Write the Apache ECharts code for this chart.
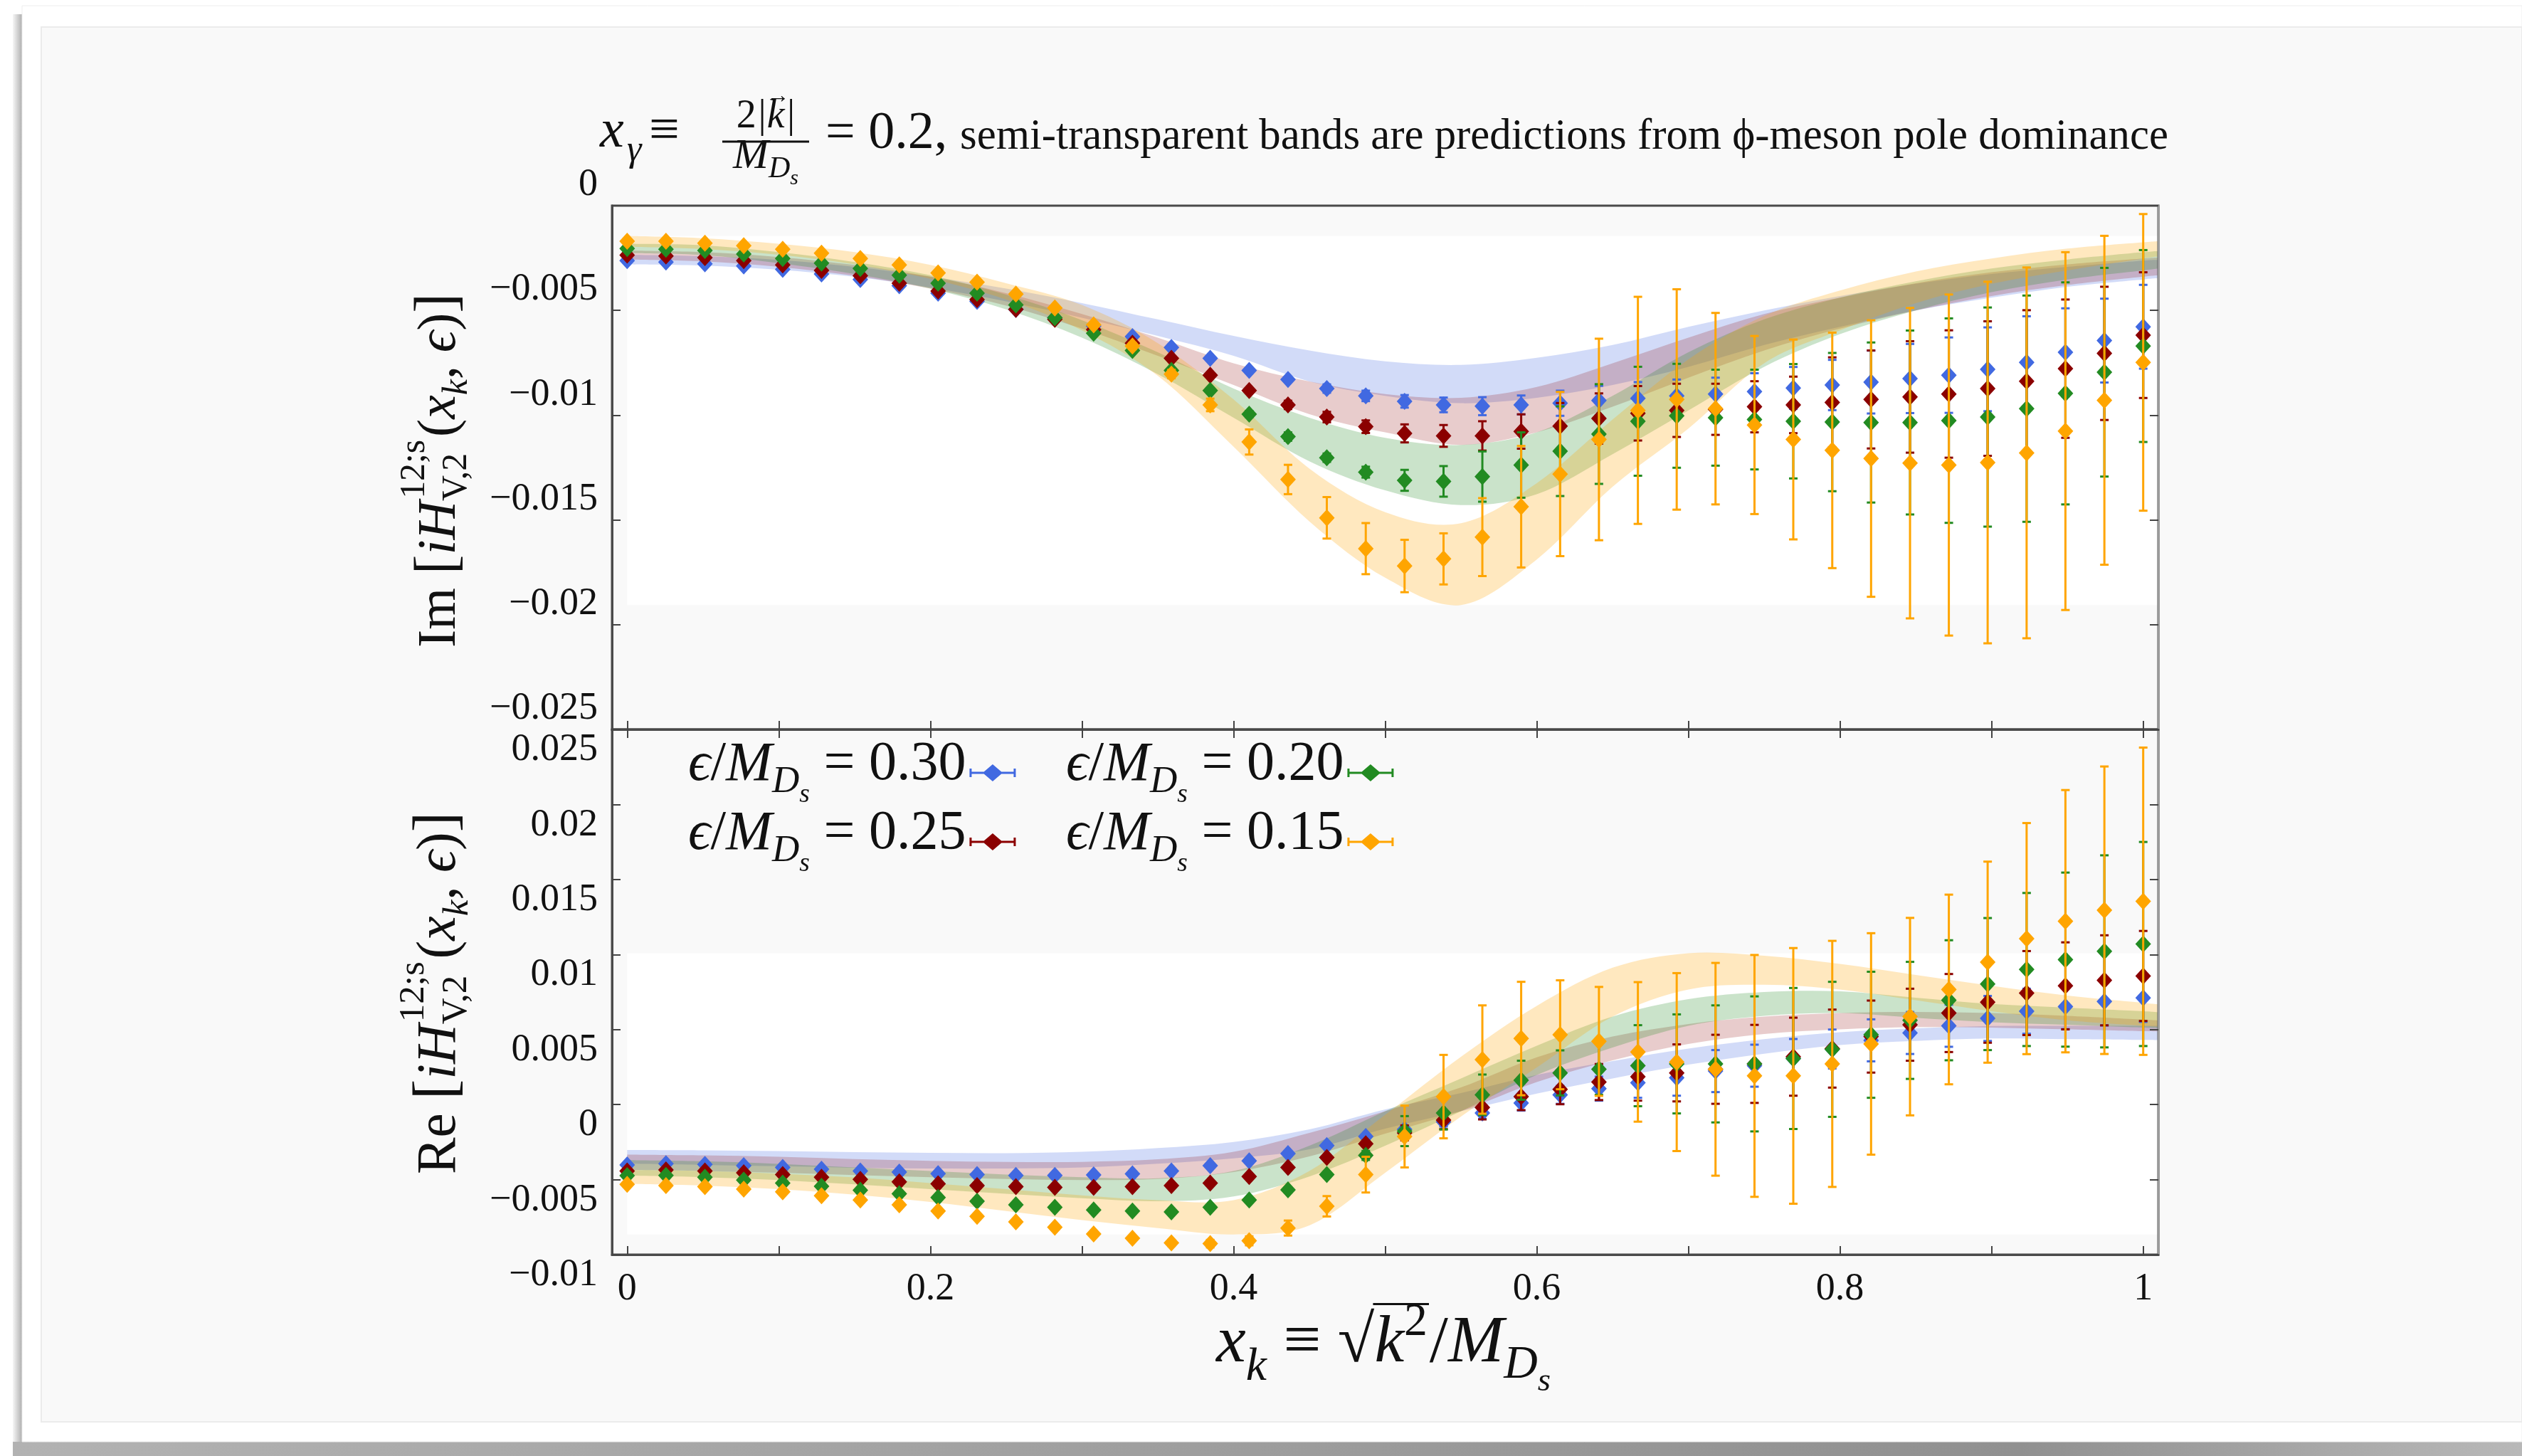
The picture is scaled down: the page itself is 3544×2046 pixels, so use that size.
<!DOCTYPE html>
<html>
<head>
<meta charset="utf-8">
<script src="https://cdn.jsdelivr.net/npm/echarts@6/dist/echarts.min.js"></script>
<style>
  html, body { margin: 0; padding: 0; background: #ffffff; }
  #chart { width: 3544px; height: 2046px; }
</style>
</head>
<body>
<div id="chart"></div>
<script>
// ---------------------------------------------------------------------------
// Data
// ---------------------------------------------------------------------------
// x_k = sqrt(k^2)/M_Ds of the lattice points
const xk = [0, 0.0256, 0.0513, 0.0769, 0.1026, 0.1282, 0.1538, 0.1795, 0.2051, 0.2308,
  0.2564, 0.2821, 0.3077, 0.3333, 0.3590, 0.3846, 0.4103, 0.4359, 0.4615, 0.4872,
  0.5128, 0.5385, 0.5641, 0.5897, 0.6154, 0.6410, 0.6667, 0.6923, 0.7179, 0.7436,
  0.7692, 0.7949, 0.8205, 0.8462, 0.8718, 0.8974, 0.9231, 0.9487, 0.9744, 1.0];

const epsValues = ['0.30', '0.25', '0.20', '0.15'];
const epsColors = ['#4169e1', '#8b0000', '#228b22', '#ffa500'];
const bandColors = ['rgba(65,105,225,0.24)', 'rgba(139,0,0,0.20)', 'rgba(34,139,34,0.24)', 'rgba(255,165,0,0.25)'];

// Im part: central values and errors
const imVal030 = [-0.00262, -0.00269, -0.00278, -0.00288, -0.00304, -0.00326, -0.00352, -0.00382, -0.00418, -0.00457,
  -0.00495, -0.00535, -0.00575, -0.00625, -0.00677, -0.00729, -0.00786, -0.00830, -0.00873, -0.00908,
  -0.00934, -0.00951, -0.00957, -0.00951, -0.00943, -0.00930, -0.00920, -0.00908, -0.00899, -0.00887,
  -0.00870, -0.00856, -0.00842, -0.00825, -0.00809, -0.00781, -0.00748, -0.00700, -0.00644, -0.00578];
const imErr030 = [0.00008, 0.00008, 0.00008, 0.00008, 0.00008, 0.00008, 0.00008, 0.00008, 0.00008, 0.00008,
  0.00008, 0.00008, 0.00008, 0.00008, 0.00008, 0.00008, 0.00008, 0.00008, 0.0002, 0.00025,
  0.0003, 0.00035, 0.00043, 0.00045, 0.0006, 0.0007, 0.00078, 0.00078, 0.00078, 0.00087,
  0.001, 0.0012, 0.0015, 0.00165, 0.0018, 0.002, 0.0022, 0.0021, 0.002, 0.002];

const imVal025 = [-0.00236, -0.00240, -0.00248, -0.00262, -0.00283, -0.00309, -0.00335, -0.00370, -0.00408, -0.00448,
  -0.00495, -0.00543, -0.00592, -0.00656, -0.00729, -0.00809, -0.00882, -0.00951, -0.01009, -0.01055,
  -0.01087, -0.01099, -0.01099, -0.01078, -0.01052, -0.01016, -0.00991, -0.00977, -0.00972, -0.00960,
  -0.00951, -0.00939, -0.00925, -0.00913, -0.00899, -0.00873, -0.00838, -0.00778, -0.00705, -0.00618];
const imErr025 = [0.0001, 0.0001, 0.0001, 0.0001, 0.0001, 0.0001, 0.0001, 0.0001, 0.0001, 0.0001,
  0.0001, 0.0001, 0.0001, 0.0001, 0.0001, 0.0001, 0.0001, 0.0002, 0.00025, 0.0003,
  0.00043, 0.00052, 0.0007, 0.00082, 0.0011, 0.0012, 0.0013, 0.00127, 0.00122, 0.00122,
  0.00135, 0.00215, 0.00234, 0.00266, 0.00304, 0.00321, 0.00339, 0.0033, 0.00318, 0.003];

const imVal020 = [-0.00205, -0.00208, -0.00214, -0.00231, -0.00252, -0.00274, -0.00300, -0.00332, -0.00370, -0.00418,
  -0.00474, -0.00535, -0.00609, -0.00691, -0.00786, -0.00882, -0.00995, -0.01102, -0.01203, -0.01272,
  -0.01311, -0.01316, -0.01293, -0.01238, -0.01172, -0.01090, -0.01029, -0.01003, -0.01012, -0.01021,
  -0.01029, -0.01033, -0.01035, -0.01035, -0.01026, -0.01009, -0.00969, -0.00896, -0.00795, -0.00670];
const imErr020 = [0.0001, 0.0001, 0.0001, 0.0001, 0.0001, 0.0001, 0.0001, 0.0001, 0.0001, 0.0001,
  0.0001, 0.0001, 0.0001, 0.0001, 0.0001, 0.00012, 0.00015, 0.0002, 0.0002, 0.00026,
  0.0005, 0.00073, 0.0012, 0.00156, 0.00214, 0.00238, 0.0026, 0.00248, 0.00229, 0.00238,
  0.00273, 0.0033, 0.00382, 0.00439, 0.00488, 0.00523, 0.0054, 0.0053, 0.00498, 0.00458];

const imVal015 = [-0.00170, -0.00170, -0.00179, -0.00191, -0.00208, -0.00227, -0.00252, -0.00283, -0.00321, -0.00365,
  -0.00422, -0.00488, -0.00569, -0.00670, -0.00804, -0.00951, -0.01128, -0.01307, -0.01490, -0.01637,
  -0.01720, -0.01686, -0.01582, -0.01437, -0.01281, -0.01116, -0.00977, -0.00925, -0.00969, -0.01047,
  -0.01116, -0.01168, -0.01207, -0.01229, -0.01238, -0.01226, -0.01180, -0.01076, -0.00929, -0.00748];
const imErr015 = [0.0001, 0.0001, 0.0001, 0.0001, 0.0001, 0.0001, 0.0001, 0.0001, 0.0001, 0.0001,
  0.0001, 0.0001, 0.00012, 0.00015, 0.0002, 0.0003, 0.0006, 0.0007, 0.00099, 0.00122,
  0.00125, 0.00122, 0.00186, 0.0029, 0.00392, 0.00481, 0.00542, 0.00526, 0.00457, 0.00425,
  0.00477, 0.00562, 0.0066, 0.00741, 0.00814, 0.00863, 0.00885, 0.00854, 0.00785, 0.00708];

// Re part: central values and errors
const reVal030 = [-0.00402, -0.00394, -0.00399, -0.00407, -0.00419, -0.00431, -0.00443, -0.00450, -0.00460, -0.00467,
  -0.00472, -0.00472, -0.00469, -0.00462, -0.00443, -0.00407, -0.00375, -0.00327, -0.00273, -0.00213,
  -0.00165, -0.00116, -0.00056, 0.00010, 0.00065, 0.00106, 0.00145, 0.00179, 0.00223, 0.00259,
  0.00307, 0.00370, 0.00428, 0.00477, 0.00525, 0.00574, 0.00622, 0.00653, 0.00687, 0.00711];
const reErr030 = [0.0001, 0.0001, 0.0001, 0.0001, 0.0001, 0.0001, 0.0001, 0.0001, 0.0001, 0.0001,
  0.0001, 0.0001, 0.0001, 0.0001, 0.0001, 0.0001, 0.0001, 0.0001, 0.00012, 0.00015,
  0.0002, 0.0003, 0.0004, 0.0005, 0.0006, 0.0008, 0.001, 0.0012, 0.0014, 0.0014,
  0.0013, 0.0013, 0.0014, 0.0014, 0.0014, 0.0015, 0.0015, 0.0015, 0.0016, 0.0016];

const reVal025 = [-0.00443, -0.00436, -0.00443, -0.00455, -0.00467, -0.00484, -0.00499, -0.00515, -0.00528, -0.00540,
  -0.00547, -0.00552, -0.00552, -0.00547, -0.00540, -0.00523, -0.00479, -0.00419, -0.00353, -0.00261,
  -0.00189, -0.00104, -0.00019, 0.00053, 0.00102, 0.00150, 0.00186, 0.00211, 0.00235, 0.00271,
  0.00319, 0.00373, 0.00453, 0.00532, 0.00610, 0.00682, 0.00743, 0.00791, 0.00828, 0.00857];
const reErr025 = [0.0001, 0.0001, 0.0001, 0.0001, 0.0001, 0.0001, 0.0001, 0.0001, 0.0001, 0.0001,
  0.0001, 0.0001, 0.0001, 0.0001, 0.0001, 0.0001, 0.0001, 0.0001, 0.00015, 0.0002,
  0.0005, 0.0006, 0.0008, 0.0009, 0.001, 0.0012, 0.0016, 0.0019, 0.0023, 0.0026,
  0.0026, 0.0026, 0.0024, 0.0024, 0.0026, 0.0027, 0.0028, 0.0029, 0.003, 0.003];

const reVal020 = [-0.00474, -0.00472, -0.00484, -0.00503, -0.00523, -0.00545, -0.00571, -0.00595, -0.00620, -0.00644,
  -0.00668, -0.00685, -0.00702, -0.00709, -0.00716, -0.00685, -0.00636, -0.00569, -0.00467, -0.00339,
  -0.00177, -0.00056, 0.00065, 0.00162, 0.00211, 0.00235, 0.00259, 0.00271, 0.00271, 0.00271,
  0.00307, 0.00368, 0.00465, 0.00561, 0.00695, 0.00803, 0.00900, 0.00966, 0.01021, 0.01070];
const reErr020 = [0.0001, 0.0001, 0.0001, 0.0001, 0.0001, 0.0001, 0.0001, 0.0001, 0.0001, 0.0001,
  0.0001, 0.0001, 0.0001, 0.0001, 0.0001, 0.0001, 0.0001, 0.0001, 0.00015, 0.0003,
  0.001, 0.0011, 0.00135, 0.0013, 0.0015, 0.0017, 0.0027, 0.0033, 0.0039, 0.0045,
  0.0047, 0.0045, 0.0042, 0.0039, 0.004, 0.0044, 0.0051, 0.0058, 0.0064, 0.0068];

const reVal015 = [-0.00532, -0.00540, -0.00547, -0.00564, -0.00581, -0.00607, -0.00636, -0.00668, -0.00709, -0.00745,
  -0.00782, -0.00818, -0.00862, -0.00891, -0.00922, -0.00927, -0.00908, -0.00823, -0.00678, -0.00467,
  -0.00213, 0.00053, 0.00300, 0.00440, 0.00465, 0.00421, 0.00351, 0.00283, 0.00235, 0.00191,
  0.00191, 0.00271, 0.00404, 0.00586, 0.00767, 0.00949, 0.01106, 0.01222, 0.01295, 0.01355];
const reErr015 = [0.00015, 0.00015, 0.00015, 0.00015, 0.00015, 0.00015, 0.00015, 0.00015, 0.00015, 0.00015,
  0.00015, 0.00015, 0.00015, 0.00015, 0.0002, 0.00025, 0.0003, 0.0005, 0.00068, 0.00119,
  0.00206, 0.00278, 0.00361, 0.00378, 0.00363, 0.00363, 0.00465, 0.00593, 0.00709, 0.00806,
  0.00852, 0.0082, 0.00738, 0.00658, 0.00632, 0.0067, 0.0077, 0.00874, 0.00958, 0.01024];

// phi-meson pole dominance prediction bands
const bandX = [0, 0.05, 0.1, 0.15, 0.2, 0.25, 0.3, 0.35, 0.4, 0.45, 0.5,
  0.55, 0.6, 0.65, 0.7, 0.75, 0.8, 0.85, 0.9, 0.95, 1.0, 1.01];

const imBand030Hi = [-0.00234, -0.00241, -0.00259, -0.00292, -0.00339, -0.00396, -0.00465, -0.00543, -0.00622, -0.00691, -0.00743,
  -0.00760, -0.00726, -0.00665, -0.00578, -0.00500, -0.00431, -0.00373, -0.00326, -0.00292, -0.00262, -0.00259];
const imBand030Lo = [-0.00280, -0.00286, -0.00306, -0.00340, -0.00391, -0.00457, -0.00535, -0.00622, -0.00717, -0.00839, -0.00908,
  -0.00943, -0.00917, -0.00856, -0.00769, -0.00665, -0.00578, -0.00500, -0.00439, -0.00387, -0.00352, -0.00346];
const imBand025Hi = [-0.00214, -0.00222, -0.00245, -0.00283, -0.00339, -0.00418, -0.00517, -0.00630, -0.00752, -0.00839, -0.00899,
  -0.00917, -0.00865, -0.00752, -0.00630, -0.00517, -0.00439, -0.00370, -0.00318, -0.00280, -0.00252, -0.00248];
const imBand025Lo = [-0.00257, -0.00266, -0.00292, -0.00335, -0.00396, -0.00477, -0.00587, -0.00717, -0.00856, -0.00995, -0.01082,
  -0.01142, -0.01082, -0.00960, -0.00821, -0.00691, -0.00587, -0.00500, -0.00431, -0.00379, -0.00339, -0.00332];
const imBand020Hi = [-0.00182, -0.00189, -0.00222, -0.00269, -0.00332, -0.00425, -0.00547, -0.00700, -0.00873, -0.01012, -0.01108,
  -0.01142, -0.01082, -0.00908, -0.00700, -0.00543, -0.00439, -0.00361, -0.00300, -0.00257, -0.00222, -0.00217];
const imBand020Lo = [-0.00227, -0.00236, -0.00274, -0.00326, -0.00396, -0.00495, -0.00630, -0.00804, -0.01012, -0.01220, -0.01359,
  -0.01429, -0.01377, -0.01186, -0.00977, -0.00769, -0.00613, -0.00500, -0.00413, -0.00352, -0.00309, -0.00300];
const imBand015Hi = [-0.00144, -0.00155, -0.00182, -0.00222, -0.00283, -0.00370, -0.00474, -0.00656, -0.00925, -0.01255, -0.01463,
  -0.01516, -0.01325, -0.01021, -0.00734, -0.00526, -0.00405, -0.00314, -0.00252, -0.00205, -0.00175, -0.00170];
const imBand015Lo = [-0.00196, -0.00207, -0.00234, -0.00280, -0.00349, -0.00448, -0.00595, -0.00812, -0.01151, -0.01507, -0.01776,
  -0.01906, -0.01689, -0.01342, -0.01064, -0.00752, -0.00595, -0.00465, -0.00373, -0.00309, -0.00252, -0.00243];

const reBand030Hi = [-0.00303, -0.00305, -0.00310, -0.00317, -0.00322, -0.00324, -0.00315, -0.00290, -0.00249, -0.00165, -0.00032,
  0.00077, 0.00198, 0.00290, 0.00373, 0.00436, 0.00482, 0.00508, 0.00523, 0.00525, 0.00525, 0.00525];
const reBand030Lo = [-0.00394, -0.00402, -0.00411, -0.00421, -0.00426, -0.00426, -0.00419, -0.00394, -0.00358, -0.00298, -0.00160,
  -0.00044, 0.00073, 0.00174, 0.00266, 0.00339, 0.00397, 0.00424, 0.00440, 0.00436, 0.00431, 0.00428];
const reBand025Hi = [-0.00334, -0.00339, -0.00348, -0.00363, -0.00375, -0.00382, -0.00382, -0.00365, -0.00315, -0.00189, -0.00044,
  0.00114, 0.00315, 0.00453, 0.00537, 0.00586, 0.00610, 0.00617, 0.00610, 0.00591, 0.00566, 0.00561];
const reBand025Lo = [-0.00436, -0.00443, -0.00455, -0.00470, -0.00484, -0.00496, -0.00503, -0.00496, -0.00450, -0.00346, -0.00194,
  -0.00044, 0.00150, 0.00295, 0.00404, 0.00470, 0.00501, 0.00516, 0.00513, 0.00501, 0.00489, 0.00486];
const reBand020Hi = [-0.00370, -0.00378, -0.00395, -0.00419, -0.00443, -0.00467, -0.00484, -0.00491, -0.00443, -0.00274, -0.00044,
  0.00174, 0.00392, 0.00586, 0.00702, 0.00750, 0.00755, 0.00712, 0.00670, 0.00646, 0.00622, 0.00615];
const reBand020Lo = [-0.00474, -0.00484, -0.00503, -0.00532, -0.00564, -0.00595, -0.00624, -0.00644, -0.00612, -0.00479, -0.00274,
  -0.00044, 0.00198, 0.00380, 0.00525, 0.00591, 0.00610, 0.00578, 0.00549, 0.00532, 0.00513, 0.00508];
const reBand015Hi = [-0.00436, -0.00443, -0.00460, -0.00486, -0.00523, -0.00564, -0.00605, -0.00637, -0.00637, -0.00443, -0.00068,
  0.00319, 0.00658, 0.00912, 0.01009, 0.00992, 0.00937, 0.00864, 0.00791, 0.00726, 0.00678, 0.00668];
const reBand015Lo = [-0.00528, -0.00540, -0.00564, -0.00600, -0.00649, -0.00709, -0.00770, -0.00823, -0.00866, -0.00806, -0.00455,
  -0.00080, 0.00247, 0.00586, 0.00767, 0.00799, 0.00767, 0.00695, 0.00622, 0.00561, 0.00525, 0.00518];

// Axis ticks
const xTickValues = [0, 0.1, 0.2, 0.3, 0.4, 0.5, 0.6, 0.7, 0.8, 0.9, 1];
const xLabelValues = [0, 0.2, 0.4, 0.6, 0.8, 1];
const imAxis = { min: -0.025, max: 0, step: 0.005 };
const reAxis = { min: -0.01, max: 0.025, step: 0.005 };

const imSets = [
  [imVal030, imErr030, imBand030Lo, imBand030Hi],
  [imVal025, imErr025, imBand025Lo, imBand025Hi],
  [imVal020, imErr020, imBand020Lo, imBand020Hi],
  [imVal015, imErr015, imBand015Lo, imBand015Hi]
];
const reSets = [
  [reVal030, reErr030, reBand030Lo, reBand030Hi],
  [reVal025, reErr025, reBand025Lo, reBand025Hi],
  [reVal020, reErr020, reBand020Lo, reBand020Hi],
  [reVal015, reErr015, reBand015Lo, reBand015Hi]
];
const seriesNames = epsValues.map(e => '\u03f5/M_Ds = ' + e);

// ---------------------------------------------------------------------------
// Layout and text helpers
// ---------------------------------------------------------------------------
const FONT = '"Liberation Serif", "DejaVu Serif", serif';
const W = 3544, H = 2046;
const PLOT_L = 860, PLOT_W = 2173;
const IM_TOP = 289, IM_H = 736, RE_TOP = 1025, RE_H = 738;
const INK = '#111111';
const FRAME = '#4a4a4a';

const measureCtx = document.createElement('canvas').getContext('2d');
function fontStr(size, italic) { return (italic ? 'italic ' : '') + size.toFixed(2) + 'px ' + FONT; }
function textWidth(t, size, italic) { measureCtx.font = fontStr(size, italic); return measureCtx.measureText(t).width; }

// Lay a row of math pieces along a baseline; {stack:[a,b]} puts a and b at the same x
function layoutRow(parts, F) {
  let x = 0;
  const items = [];
  for (const p of parts) {
    const list = p.stack || [p];
    let adv = 0;
    for (const q of list) {
      const size = F * (q.s || 1);
      const gap = (q.gap || 0) * F;
      const w = textWidth(q.t, size, q.it);
      items.push({ t: q.t, x: x + gap, dy: (q.dy || 0) * F, size, it: q.it, w, tag: q.tag });
      adv = Math.max(adv, gap + w + (q.after || 0) * F);
    }
    x += adv;
  }
  return { items, width: x, F };
}
function fitRow(parts, targetW, F0) {
  const r = layoutRow(parts, F0);
  return layoutRow(parts, F0 * targetW / r.width);
}
function textEl(t, x, baseline, size, italic, align) {
  return {
    type: 'text', x: x, y: baseline - 0.3375 * size, z: 100, silent: true,
    style: { text: t, font: fontStr(size, italic), fill: INK, align: align || 'left', verticalAlign: 'middle' }
  };
}
function rowEls(row, ox, oy) {
  return row.items.map(it => textEl(it.t, ox + it.x, oy + it.dy, it.size, it.it));
}

// Smooth (Catmull-Rom) path through pixel points, continuing an open path
function smoothSeg(p) {
  let s = '';
  for (let i = 0; i < p.length - 1; i++) {
    const p0 = p[i - 1] || p[i], p1 = p[i], p2 = p[i + 1], p3 = p[i + 2] || p[i + 1];
    const c1x = p1[0] + (p2[0] - p0[0]) / 6, c1y = p1[1] + (p2[1] - p0[1]) / 6;
    const c2x = p2[0] - (p3[0] - p1[0]) / 6, c2y = p2[1] - (p3[1] - p1[1]) / 6;
    s += ' C' + c1x + ',' + c1y + ' ' + c2x + ',' + c2y + ' ' + p2[0] + ',' + p2[1];
  }
  return s;
}

// ---------------------------------------------------------------------------
// Series builders
// ---------------------------------------------------------------------------
function bandSeries(name, fill, lo, hi, xi, yi) {
  return {
    type: 'custom', name: name, xAxisIndex: xi, yAxisIndex: yi, z: 2, silent: true, clip: true,
    data: bandX.map((x, i) => [x, lo[i], hi[i]]),
    encode: { x: 0, y: [1, 2] },
    renderItem: function (params, api) {
      if (params.dataIndex !== 0) return null;
      const up = bandX.map((x, i) => api.coord([x, hi[i]]));
      const dn = bandX.map((x, i) => api.coord([x, lo[i]])).reverse();
      const d = 'M' + up[0][0] + ',' + up[0][1] + smoothSeg(up) +
        ' L' + dn[0][0] + ',' + dn[0][1] + smoothSeg(dn) + ' Z';
      return { type: 'path', shape: { pathData: d }, style: { fill: fill } };
    }
  };
}

function pointSeries(name, color, vals, errs, xi, yi, z) {
  return {
    type: 'custom', name: name, xAxisIndex: xi, yAxisIndex: yi, z: z, clip: false,
    itemStyle: { color: color },
    data: xk.map((x, i) => [x, vals[i], errs[i]]),
    encode: { x: 0, y: 1 },
    renderItem: function (params, api) {
      const x = api.value(0), y = api.value(1), e = api.value(2);
      const c = api.coord([x, y]);
      const t = api.coord([x, y + e])[1];
      const b = api.coord([x, y - e])[1];
      const st = { stroke: color, lineWidth: 3 };
      return {
        type: 'group', children: [
          { type: 'line', shape: { x1: c[0], y1: t, x2: c[0], y2: b }, style: st },
          { type: 'line', shape: { x1: c[0] - 6, y1: t, x2: c[0] + 6, y2: t }, style: st },
          { type: 'line', shape: { x1: c[0] - 6, y1: b, x2: c[0] + 6, y2: b }, style: st },
          { type: 'polygon', shape: { points: [[c[0], c[1] - 12], [c[0] + 11, c[1]], [c[0], c[1] + 12], [c[0] - 11, c[1]]] },
            style: { fill: color } }
        ]
      };
    }
  };
}

// white plotting region spanned by the prediction bands
function bandExtent(sets) {
  let lo = Infinity, hi = -Infinity;
  sets.forEach(s => { s[2].forEach(v => { lo = Math.min(lo, v); }); s[3].forEach(v => { hi = Math.max(hi, v); }); });
  return [lo, hi];
}
function regionSeries(xi, yi, ext) {
  return {
    type: 'line', xAxisIndex: xi, yAxisIndex: yi, data: [], silent: true, z: 1,
    markArea: {
      silent: true, z: 1, itemStyle: { color: '#ffffff' }, label: { show: false },
      data: [[{ coord: [0, ext[1]] }, { coord: [bandX[bandX.length - 1], ext[0]] }]]
    }
  };
}

const series = [regionSeries(0, 0, bandExtent(imSets)), regionSeries(1, 2, bandExtent(reSets))];
imSets.forEach((s, k) => series.push(bandSeries('Im band ' + epsValues[k], bandColors[k], s[2], s[3], 0, 0)));
reSets.forEach((s, k) => series.push(bandSeries('Re band ' + epsValues[k], bandColors[k], s[2], s[3], 1, 2)));
imSets.forEach((s, k) => series.push(pointSeries(seriesNames[k], epsColors[k], s[0], s[1], 0, 0, 3 + k * 0.01)));
reSets.forEach((s, k) => series.push(pointSeries(seriesNames[k], epsColors[k], s[0], s[1], 1, 2, 3 + k * 0.01)));

// ---------------------------------------------------------------------------
// Axes
// ---------------------------------------------------------------------------
const tickStyle = { inside: true, length: 12, lineStyle: { color: '#444', width: 2 } };
const labelFont = { fontFamily: FONT, fontSize: 54, color: INK };
function fmtY(v) {
  if (Math.abs(v) < 1e-12) return '0';
  return (v < 0 ? '\u2212' : '') + String(+Math.abs(v).toFixed(4));
}
function fmtX(v) { return String(+v.toFixed(2)); }
function xAxisDef(grid, pos, labels) {
  return {
    type: 'value', gridIndex: grid, position: pos, min: -0.01, max: 1.01, z: 5,
    axisLine: { show: true, onZero: false, lineStyle: { color: FRAME, width: 3 } },
    axisTick: Object.assign({ customValues: xTickValues }, tickStyle),
    axisLabel: labels ? Object.assign({ show: true, customValues: xLabelValues, formatter: fmtX, margin: 22 }, labelFont) : { show: false },
    splitLine: { show: false }
  };
}
// tick labels sit just above (Im) or just below (Re) their ticks
function yAxisDef(grid, pos, range, vAlign) {
  return {
    type: 'value', gridIndex: grid, position: pos, min: range.min, max: range.max, interval: range.step, z: 5,
    axisLine: { show: true, onZero: false, lineStyle: { color: pos === 'left' ? FRAME : '#9a9a9a', width: 3 } },
    axisTick: tickStyle,
    axisLabel: vAlign ? Object.assign({ show: true, formatter: fmtY, margin: 20, verticalAlign: vAlign, lineHeight: 58 }, labelFont) : { show: false },
    splitLine: { show: false }
  };
}

// ---------------------------------------------------------------------------
// Legend
// ---------------------------------------------------------------------------
const LF = 78, LB = 22;
const legendRich = {
  e: { fontFamily: FONT, fontStyle: 'italic', fontSize: LF, color: INK, verticalAlign: 'bottom', padding: [0, 0, LB, 0] },
  n: { fontFamily: FONT, fontSize: LF, color: INK, verticalAlign: 'bottom', padding: [0, 0, LB, 0] },
  m: { fontFamily: FONT, fontStyle: 'italic', fontSize: LF, color: INK, verticalAlign: 'bottom', padding: [0, 0, LB, 0] },
  d: { fontFamily: FONT, fontStyle: 'italic', fontSize: LF * 0.68, color: INK, verticalAlign: 'bottom', padding: [0, 0, LB - 12, 0] },
  s: { fontFamily: FONT, fontStyle: 'italic', fontSize: LF * 0.48, color: INK, verticalAlign: 'bottom', padding: [0, 0, 0, 0] }
};
const legendIcon = 'path://M0,10.5H65V13.5H0Z M0,6H3V18H0Z M62,6H65V18H62Z M32.5,0L46.5,12L32.5,24L18.5,12Z';
function legendDef(names, left) {
  return {
    data: names, orient: 'vertical', left: left, top: 1036, padding: 0, itemGap: -3,
    align: 'right', itemWidth: 65, itemHeight: 24, icon: legendIcon, selectedMode: false,
    textStyle: { rich: legendRich, color: INK },
    formatter: function (name) {
      return '{e|\u03f5}{n|/}{m|M}{d|D}{s|s}{n| = ' + name.split('= ')[1] + '}';
    }
  };
}

// ---------------------------------------------------------------------------
// Page frame, title and axis titles
// ---------------------------------------------------------------------------
const graphics = [
  { type: 'rect', z: -5, silent: true, shape: { x: 0, y: 0, width: W, height: H }, style: { fill: '#ffffff' } },
  { type: 'rect', z: -5, silent: true, shape: { x: 18, y: 20, width: 14, height: H - 20 },
    style: { fill: new echarts.graphic.LinearGradient(0, 0, 1, 0, [{ offset: 0, color: '#f6f6f6' }, { offset: 1, color: '#aaaaaa' }]) } },
  { type: 'rect', z: -5, silent: true, shape: { x: 18, y: 2026, width: W - 18, height: 20 },
    style: { fill: new echarts.graphic.LinearGradient(0, 0, 1, 0, [{ offset: 0, color: '#b2b2b2' }, { offset: 0.8, color: '#909090' }, { offset: 1, color: '#b8b8b8' }]) } },
  { type: 'rect', z: -4, silent: true, shape: { x: 31, y: 8, width: W - 31, height: 2018 },
    style: { fill: '#ffffff', stroke: '#ededed', lineWidth: 1 } },
  { type: 'rect', z: -3, silent: true, shape: { x: 58, y: 38, width: W - 58, height: 1960 },
    style: { fill: '#f9f9f9', stroke: '#ebebeb', lineWidth: 2 } }
];

// title: x_gamma = 2|k|/M_Ds = 0.2, ...
(function () {
  const els = [];
  els.push(textEl('x', 843, 212, 76, true));
  els.push(textEl('\u03b3', 881, 230, 52, true));
  els.push(textEl('\u2261', 912, 212, 76, false));
  const num = layoutRow([{ t: '2' }, { t: '|', gap: 0.05 }, { t: 'k', it: true, tag: 'k', gap: 0.02 }, { t: '|', gap: 0.06 }], 56);
  const nx = 1076 - num.width / 2;
  rowEls(num, nx, 183).forEach(e => els.push(e));
  const kItem = num.items.find(i => i.tag === 'k');
  els.push(textEl('\u2192', nx + kItem.x + kItem.w / 2 + 3, 146, 32, false, 'center'));
  els.push({ type: 'line', z: 100, silent: true, shape: { x1: 1015, y1: 199, x2: 1137, y2: 199 }, style: { stroke: INK, lineWidth: 3 } });
  const den = layoutRow([{ t: 'M', it: true }, { t: 'D', it: true, s: 0.7, dy: 0.2 }, { t: 's', it: true, s: 0.5, dy: 0.36 }], 60);
  rowEls(den, 1076 - den.width / 2, 240).forEach(e => els.push(e));
  els.push(textEl('= 0.2,', 1160, 214, 74, false));
  const msg = 'semi-transparent bands are predictions from \u03d5-meson pole dominance';
  const size = 54 * 1698 / textWidth(msg, 54, false);
  els.push(textEl(msg, 1349, 214, size, false));
  els.forEach(e => graphics.push(e));
})();

// vertical axis titles
function yTitle(head, baseX, startY, len) {
  const parts = [
    { t: head }, { t: ' ' }, { t: '[', s: 1.1 }, { t: 'i', it: true }, { t: 'H', it: true },
    { stack: [{ t: '12;s', s: 0.66, dy: -0.6, gap: 0.04 }, { t: 'V,2', s: 0.66, dy: 0.18 }] },
    { t: '(', gap: 0.05 }, { t: 'x', it: true }, { t: 'k', it: true, s: 0.66, dy: 0.2 },
    { t: ', ' }, { t: '\u03f5', it: true }, { t: ')' }, { t: ']', s: 1.1 }
  ];
  const row = fitRow(parts, len, 70);
  graphics.push({ type: 'group', x: baseX, y: startY, rotation: Math.PI / 2, children: rowEls(row, 0, 0) });
}
yTitle('Im', 645, 910, 498);
yTitle('Re', 645, 1650, 509);

// horizontal axis title: x_k = sqrt(k^2)/M_Ds
(function () {
  const parts = [
    { t: 'x', it: true }, { t: 'k', it: true, s: 0.7, dy: 0.25 }, { t: ' \u2261 ' },
    { t: '\u221a', tag: 'rad' }, { t: 'k', it: true }, { t: '2', s: 0.7, dy: -0.42, tag: 'radEnd' },
    { t: '/', gap: 0.03 }, { t: 'M', it: true }, { t: 'D', it: true, s: 0.7, dy: 0.22 }, { t: 's', it: true, s: 0.5, dy: 0.4 }
  ];
  const row = fitRow(parts, 470, 68);
  const ox = 1709, base = 1920;
  rowEls(row, ox, base).forEach(e => graphics.push(e));
  const rad = row.items.find(i => i.tag === 'rad');
  const end = row.items.find(i => i.tag === 'radEnd');
  const yBar = base - 0.93 * row.F;
  graphics.push({ type: 'line', z: 100, silent: true,
    shape: { x1: ox + rad.x + rad.w - 2, y1: yBar, x2: ox + end.x + end.w + 2, y2: yBar },
    style: { stroke: INK, lineWidth: 3 } });
})();

// ---------------------------------------------------------------------------
// Chart
// ---------------------------------------------------------------------------
const chart = echarts.init(document.getElementById('chart'), null, { renderer: 'canvas', width: W, height: H });
chart.setOption({
  animation: false,
  backgroundColor: '#ffffff',
  grid: [
    { left: PLOT_L, top: IM_TOP, width: PLOT_W, height: IM_H, show: true, borderColor: FRAME, borderWidth: 3, backgroundColor: 'transparent', z: 5 },
    { left: PLOT_L, top: RE_TOP, width: PLOT_W, height: RE_H, show: true, borderColor: FRAME, borderWidth: 3, backgroundColor: 'transparent', z: 5 }
  ],
  xAxis: [xAxisDef(0, 'bottom', false), xAxisDef(1, 'bottom', true), xAxisDef(1, 'top', false)],
  yAxis: [
    yAxisDef(0, 'left', imAxis, 'bottom'), yAxisDef(0, 'right', imAxis, null),
    yAxisDef(1, 'left', reAxis, 'top'), yAxisDef(1, 'right', reAxis, null)
  ],
  legend: [legendDef([seriesNames[0], seriesNames[1]], 967), legendDef([seriesNames[2], seriesNames[3]], 1498)],
  graphic: { elements: graphics },
  series: series
});
</script>
</body>
</html>
